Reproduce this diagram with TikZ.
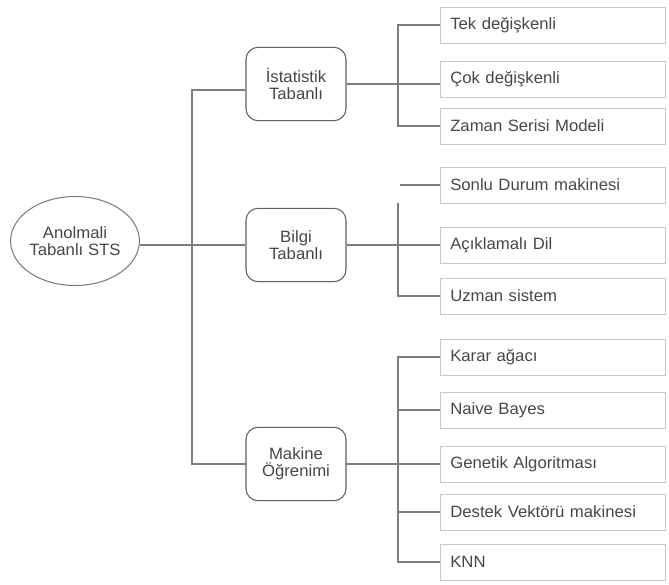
\documentclass[tikz,border=0pt]{standalone}
\usepackage{fontspec}
\setmainfont{Liberation Sans}[FakeStretch=1.02]
\usetikzlibrary{positioning,calc,shapes.geometric}
\definecolor{lnclr}{RGB}{125,125,125}
\definecolor{bdclr}{RGB}{95,95,95}
\definecolor{lfclr}{RGB}{200,200,200}
\definecolor{txclr}{RGB}{70,70,70}
\tikzset{
  rootnd/.style={draw=lnclr,ellipse,minimum width=90pt,minimum height=66.75pt,inner sep=0pt,thick,align=center,text=txclr},
  catblk/.style={draw=bdclr,rectangle,rounded corners=9pt,minimum width=75pt,minimum height=55pt,inner sep=0pt,thick,align=center,text=txclr},
  leafblk/.style={draw=lfclr,rectangle,anchor=west,text width=154pt,inner xsep=7.5pt,minimum height=27pt,align=left,text=txclr},
  conn/.style={draw=lnclr,line width=1.1pt}
}

\begin{document}
\begin{tikzpicture}[x=0.75pt,y=-0.75pt,font=\fontsize{12.3}{13}\selectfont]
  \useasboundingbox (0,0) rectangle (669,585);
  % Root
  \node[rootnd] (root) at (75,241) {Anolmali\\Tabanlı STS};

  % Categories
  \node[catblk] (ist) at (296,84) {İstatistik\\Tabanlı};
  \node[catblk] (bil) at (296,245) {Bilgi\\Tabanlı};
  \node[catblk] (mak) at (296,464) {Makine\\Öğrenimi};

  % Leaves
  \node[leafblk] (tek) at (440,25) {Tek değişkenli};
  \node[leafblk] (cok) at (440,79) {Çok değişkenli};
  \node[leafblk] (zmn) at (440,126) {Zaman Serisi Modeli};
  \node[leafblk] (son) at (440,185) {Sonlu Durum makinesi};
  \node[leafblk] (aci) at (440,245) {Açıklamalı Dil};
  \node[leafblk] (uzm) at (440,296) {Uzman sistem};
  \node[leafblk] (kar) at (440,357) {Karar ağacı};
  \node[leafblk] (nai) at (440,410) {Naive Bayes};
  \node[leafblk] (gen) at (440,464) {Genetik Algoritması};
  \node[leafblk] (des) at (440,512) {Destek Vektörü makinesi};
  \node[leafblk] (knn) at (440,562) {KNN};

  % Trunk
  \coordinate (trk) at (192,0);
  \coordinate (brk) at (398,0);
  \draw[conn] ([yshift=-4.5pt]ist.west) -| (trk |- mak) -- (mak.west);
  \draw[conn] (root.east |- bil) -- (bil.west);

  % Statistics branch
  \draw[conn] (ist.east) -- (ist.east -| cok.west);
  \draw[conn] (tek.west) -- (tek.west -| brk) |- (zmn.west);

  % Knowledge branch
  \draw[conn] (son.west) -- ([xshift=-30pt]son.west);
  \draw[conn] (bil.east) -- (aci.west);
  \draw[conn] (son.south -| brk) |- (uzm.west);

  % Machine learning branch
  \draw[conn] (mak.east) -- (gen.west);
  \draw[conn] (kar.west) -- (kar.west -| brk) |- (knn.west);
  \foreach \lf in {nai,des}
    \draw[conn] (\lf.west) -- (\lf.west -| brk);
\end{tikzpicture}
\end{document}
